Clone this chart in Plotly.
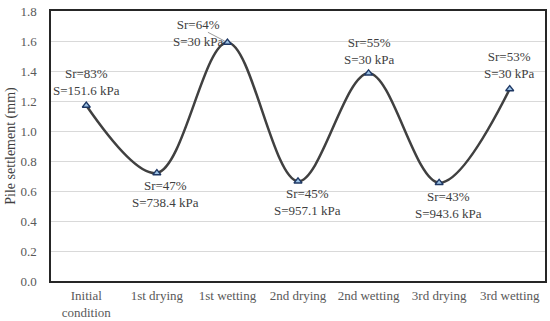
import plotly.graph_objects as go

categories = ["Initial<br>condition", "1st drying", "1st wetting", "2nd drying",
              "2nd wetting", "3rd drying", "3rd wetting"]
settlement = [1.17, 0.72, 1.59, 0.665, 1.385, 0.655, 1.28]
sr_labels = ["83%", "47%", "64%", "45%", "55%", "43%", "53%"]
suction_labels = ["151.6 kPa", "738.4 kPa", "30 kPa", "957.1 kPa", "30 kPa", "943.6 kPa", "30 kPa"]
y_ticks = [0.0, 0.2, 0.4, 0.6, 0.8, 1.0, 1.2, 1.4, 1.6, 1.8]

FONT = "'Liberation Serif', 'Times New Roman', 'DejaVu Serif'"
TXT = "#404040"

fig = go.Figure()
fig.add_trace(go.Scatter(
    x=categories, y=settlement, mode="lines+markers",
    line=dict(color="#404040", width=2.5, shape="spline", smoothing=1.0),
    marker=dict(symbol="triangle-up", size=7, color="#9dc3e6",
                line=dict(color="#1f3864", width=1.3)),
    showlegend=False, hoverinfo="skip",
))

# label offsets (pixels) per point: (xshift, yshift)
offsets = [(0, 24), (9, -21), (-29, 10), (9, -21), (1, 22), (9, -22), (0, 24)]
for i, (c, v) in enumerate(zip(categories, settlement)):
    text = f"Sr={sr_labels[i]}<br>S={suction_labels[i]}"
    dx, dy = offsets[i]
    fig.add_annotation(x=c, y=v, text=text, showarrow=False,
                       xshift=dx, yshift=dy,
                       font=dict(family=FONT, size=13, color=TXT))

# leader line for the 1st wetting label
fig.add_annotation(x=categories[2], y=settlement[2], text="", showarrow=True,
                   arrowhead=0, arrowwidth=0.8, arrowcolor="#808080",
                   ax=-21, ay=-11, standoff=3)

fig.update_layout(
    width=550, height=321,
    margin=dict(l=51, r=5, t=11, b=40),
    plot_bgcolor="white", paper_bgcolor="white",
    font=dict(family=FONT, size=13, color="#595959"),
)
fig.update_xaxes(range=[-0.5, 6.5], automargin=False,
                 showgrid=False, showline=True, linecolor="#262626", linewidth=1.5,
                 mirror=True, ticks="", ticklabelstandoff=2,
                 tickfont=dict(family=FONT, size=13, color="#595959"))
fig.update_yaxes(range=[0, 1.8], tickvals=y_ticks, tickformat=".1f", automargin=False,
                 showgrid=True, gridcolor="#d9d9d9", gridwidth=1.3,
                 showline=True, linecolor="#262626", linewidth=1.5, mirror=True,
                 zeroline=False, ticks="", ticklabelstandoff=10,
                 tickfont=dict(family=FONT, size=13, color="#595959"),
                 title=dict(text="Pile settlement (mm)", standoff=2,
                            font=dict(family=FONT, size=14, color="#404040")))

fig.write_html("out.html", post_script="document.body.style.margin='0';",
               config={"displayModeBar": False})
